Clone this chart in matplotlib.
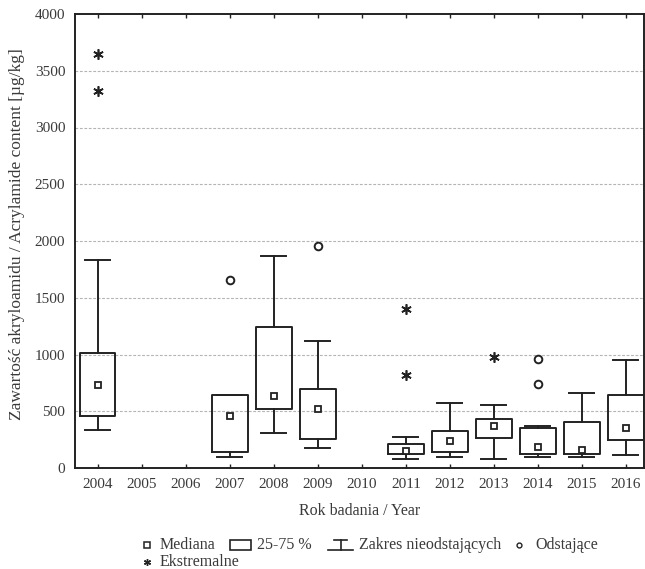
import matplotlib
matplotlib.use("Agg")
import matplotlib.pyplot as plt
from matplotlib.patches import Rectangle
from matplotlib.lines import Line2D

plt.rcParams['font.family'] = ['Liberation Serif', 'DejaVu Serif']

# ---- data ----
years = [2004, 2005, 2006, 2007, 2008, 2009, 2010, 2011, 2012, 2013, 2014, 2015, 2016]
box_years = [2004, 2007, 2008, 2009, 2011, 2012, 2013, 2014, 2015, 2016]
medians = [731, 458, 634, 517, 152, 238, 373, 182, 161, 352]
q1 = [455, 144, 520, 253, 121, 141, 264, 121, 121, 244]
q3 = [1016, 640, 1242, 696, 211, 326, 432, 355, 408, 646]
whisk_lo = [335, 100, 305, 179, 77, 100, 77, 100, 100, 112]
whisk_hi = [1833, 640, 1871, 1122, 276, 573, 552, 367, 661, 949]
outlier_years = [2007, 2009, 2014, 2014]
outlier_vals = [1652, 1956, 963, 743]
extreme_years = [2004, 2004, 2011, 2011, 2013]
extreme_vals = [3648, 3324, 1401, 819, 975]
y_ticks = [0, 500, 1000, 1500, 2000, 2500, 3000, 3500, 4000]

W, H = 645, 569
fig = plt.figure(figsize=(W / 100, H / 100), dpi=100)
ax = fig.add_axes([75 / W, 1 - 468 / H, (644 - 75) / W, (468 - 14) / H])

tc = '#3a3a3a'
lc = '#222222'

stats = []
for i in range(len(box_years)):
    stats.append(dict(med=medians[i], q1=q1[i], q3=q3[i],
                      whislo=whisk_lo[i], whishi=whisk_hi[i], fliers=[]))
ax.bxp(stats, positions=box_years, widths=0.8, capwidths=0.57,
       showfliers=False, manage_ticks=False,
       boxprops=dict(color=lc, linewidth=1.4),
       whiskerprops=dict(color=lc, linewidth=1.4),
       capprops=dict(color=lc, linewidth=1.4),
       medianprops=dict(linestyle='none'))
ax.plot(box_years, medians, linestyle='none', marker='s', markersize=5,
        markerfacecolor='white', markeredgecolor=lc, markeredgewidth=1.3, zorder=5)
ax.plot(outlier_years, outlier_vals, linestyle='none', marker='o', markersize=5.5,
        markerfacecolor='white', markeredgecolor=lc, markeredgewidth=1.4, zorder=5)
ax.plot(extreme_years, extreme_vals, linestyle='none', marker=(6, 2, 0), markersize=7.5,
        color=lc, markeredgewidth=1.2, zorder=5)

ax.set_xlim(2003.48, 2016.41)
ax.set_ylim(0, 4000)
ax.set_xticks(years)
ax.set_xticklabels([str(y) for y in years])
ax.set_yticks(y_ticks)
for v in y_ticks[1:-1]:
    ax.axhline(v, color='#b4b4b4', linestyle=(0, (2.5, 1.5)), linewidth=0.8, zorder=0)

ax.tick_params(axis='x', direction='in', top=True, length=3, width=1,
               labelsize=11, labelcolor=tc, color=lc, pad=7)
ax.tick_params(axis='y', direction='in', length=0, labelsize=11,
               labelcolor=tc, pad=7)
for s in ax.spines.values():
    s.set_color(lc)
    s.set_linewidth(1.4)

ax.set_xlabel('Rok badania / Year', fontsize=11.5, color=tc, labelpad=9)
ax.set_ylabel('Zawartość akryloamidu / Acrylamide content [µg/kg]', fontsize=12.5,
              color=tc)
ax.yaxis.set_label_coords(-50 / (644 - 75), 0.515)

# ---- legend drawn below ----
def fx(px):
    return px / W

def fy(py):
    return 1 - py / H

fs = 11.5
r1 = 545
r2 = 562
fig.add_artist(Line2D([fx(147)], [fy(r1)], marker='s', markersize=4, markerfacecolor='white',
                      markeredgecolor=lc, markeredgewidth=1.1, linestyle='none'))
fig.text(fx(160), fy(r1), 'Mediana', fontsize=fs, color=tc, va='center', ha='left')
fig.add_artist(Rectangle((fx(230), fy(r1 + 5)), fx(21), 10 / H, fill=False,
                         edgecolor=lc, linewidth=1.2))
fig.text(fx(257), fy(r1), '25-75 %', fontsize=fs, color=tc, va='center', ha='left')
fig.add_artist(Line2D([fx(334), fx(347)], [fy(r1 - 5), fy(r1 - 5)], color=lc, linewidth=1.2))
fig.add_artist(Line2D([fx(340.5), fx(340.5)], [fy(r1 - 5), fy(r1 + 5)], color=lc, linewidth=1.2))
fig.add_artist(Line2D([fx(328), fx(353)], [fy(r1 + 5), fy(r1 + 5)], color=lc, linewidth=1.2))
fig.text(fx(359), fy(r1), 'Zakres nieodstających', fontsize=fs, color=tc, va='center', ha='left')
fig.add_artist(Line2D([fx(519)], [fy(r1)], marker='o', markersize=3.5, markerfacecolor='white',
                      markeredgecolor=lc, markeredgewidth=1.0, linestyle='none'))
fig.text(fx(535), fy(r1), 'Odstające', fontsize=fs, color=tc, va='center', ha='left')
fig.add_artist(Line2D([fx(147)], [fy(r2)], marker=(6, 2, 0), markersize=5, color=lc,
                      markeredgewidth=1.0, linestyle='none'))
fig.text(fx(160), fy(r2), 'Ekstremalne', fontsize=fs, color=tc, va='center', ha='left')

fig.savefig('out.png', dpi=100)
